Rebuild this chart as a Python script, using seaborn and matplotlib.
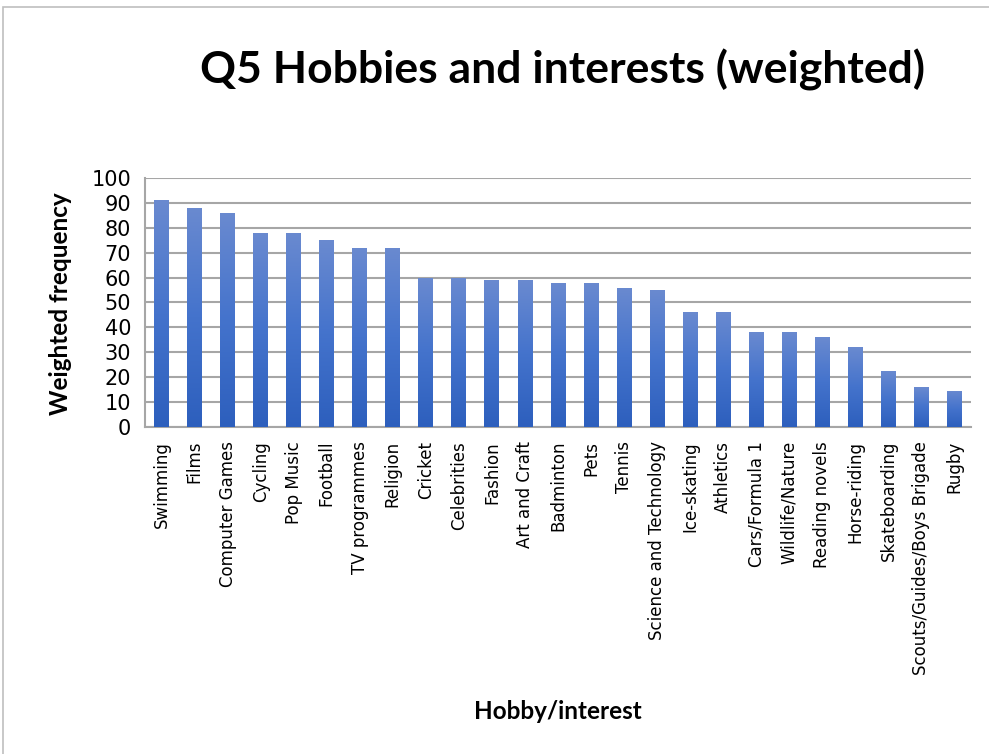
import numpy as np
import pandas as pd
import matplotlib
matplotlib.use("Agg")
import matplotlib.pyplot as plt
import seaborn as sns
from matplotlib.colors import LinearSegmentedColormap
from matplotlib.patches import Rectangle

hobbies = ["Swimming", "Films", "Computer Games", "Cycling", "Pop Music", "Football",
           "TV programmes", "Religion", "Cricket", "Celebrities", "Fashion", "Art and Craft",
           "Badminton", "Pets", "Tennis", "Science and Technology", "Ice-skating", "Athletics",
           "Cars/Formula 1", "Wildlife/Nature", "Reading novels", "Horse-riding",
           "Skateboarding", "Scouts/Guides/Boys Brigade", "Rugby"]
frequency = [91, 88, 86, 78, 78, 75, 72, 72, 60, 60, 59, 59, 58, 58, 56, 55, 46, 46,
             38, 38, 36, 32, 22.5, 16, 14.5]
yticks = [0, 10, 20, 30, 40, 50, 60, 70, 80, 90, 100]

df = pd.DataFrame({"Hobby/interest": hobbies, "Weighted frequency": frequency})

sns.set_style("white")
plt.rcParams["font.family"] = ["DejaVu Sans"]
plt.rcParams["text.color"] = "black"
plt.rcParams["xtick.color"] = "black"
plt.rcParams["ytick.color"] = "black"

fig = plt.figure(figsize=(9.89, 7.54), dpi=100)
ax = fig.add_axes([0.1466, 0.4337, 0.8352, 0.3303])

sns.barplot(data=df, x="Hobby/interest", y="Weighted frequency", color="#4472c4",
            width=0.45, ax=ax, zorder=3)

# vertical gradient fill clipped to each bar
grad_cmap = LinearSegmentedColormap.from_list("bar_grad", ["#2d5fbd", "#4473cc", "#6a8ad0"])
grad = np.linspace(0, 1, 256).reshape(-1, 1)
for bar in ax.patches:
    x0, y0 = bar.get_x(), bar.get_y()
    w, h = bar.get_width(), bar.get_height()
    bar.set_facecolor("none")
    bar.set_edgecolor("none")
    im = ax.imshow(grad, cmap=grad_cmap, origin="lower", aspect="auto",
                   extent=(x0, x0 + w, y0, y0 + h), zorder=3)
    im.set_clip_path(bar)

ax.set_xlim(-0.5, len(hobbies) - 0.5)
ax.set_ylim(0, 100)
ax.set_yticks(yticks)
ax.set_yticklabels([str(v) for v in yticks], fontsize=15, color="black")
ax.yaxis.grid(True, color="#a6a6a6", linewidth=1.5, zorder=0)
ax.set_axisbelow(True)

ax.set_xticks(np.arange(len(hobbies)))
ax.set_xticklabels(hobbies, rotation=90, fontsize=12, color="black")
ax.tick_params(axis="x", length=0, pad=10)
ax.set_xticks(np.arange(len(hobbies) + 1) - 0.5, minor=True)
ax.tick_params(axis="x", which="minor", length=6, color="#a6a6a6", width=1.2, direction="out")
ax.tick_params(axis="y", length=6, color="#a6a6a6", width=1.2, direction="out", pad=4,
               labelcolor="black")

for side in ["top", "right"]:
    ax.spines[side].set_visible(False)
for side in ["left", "bottom"]:
    ax.spines[side].set_color("#a6a6a6")
    ax.spines[side].set_linewidth(1.5)

ax.set_xlabel("")
ax.set_ylabel("")
fig.text(0.061, 0.597, "Weighted frequency", rotation=90, ha="center", va="center",
         fontsize=17.5, fontweight="bold", family=["Lato", "DejaVu Sans"], color="black")
fig.text(0.564, 0.056, "Hobby/interest", ha="center", va="center",
         fontsize=17.5, fontweight="bold", family=["Lato", "DejaVu Sans"], color="black")
fig.text(0.569, 0.907, "Q5 Hobbies and interests (weighted)", ha="center", va="center",
         fontsize=32, fontweight="bold", family=["Lato", "DejaVu Sans"], color="black")

# chart-area border
fig.patches.append(Rectangle((0.003, -0.01), 1.2, 1.0 - 0.0093 + 0.01, transform=fig.transFigure,
                             fill=False, edgecolor="#bfbfbf", linewidth=1.2))

fig.savefig("out.png", dpi=100)
